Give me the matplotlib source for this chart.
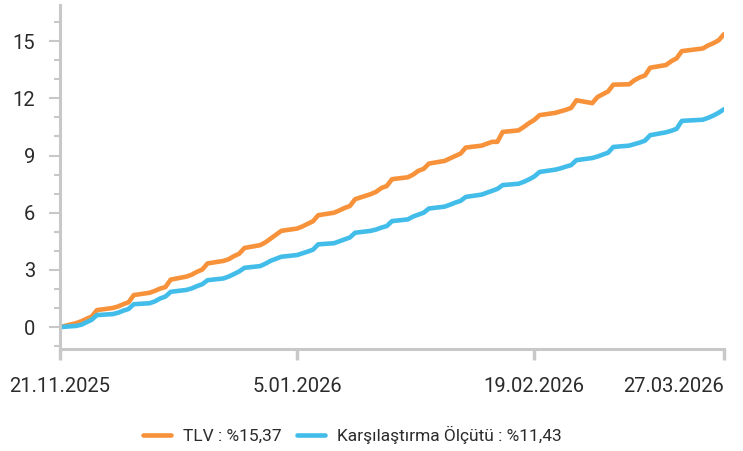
import pandas as pd
import matplotlib.pyplot as plt
from matplotlib.ticker import MultipleLocator

plt.rcParams['font.family'] = ['Roboto', 'DejaVu Sans']

# business days, Turkish holidays dropped (1 Jan, Ramazan Bayrami 20 Mar)
holidays = ['2026-01-01', '2026-03-20']
dates = pd.bdate_range('2025-11-21', '2026-03-27', freq='C', holidays=holidays)

tlv = [
    0.00,
    0.20, 0.30, 0.43, 0.55, 0.89,
    1.00, 1.08, 1.20, 1.30, 1.68,
    1.80, 1.90, 2.02, 2.10, 2.49,
    2.65, 2.75, 2.90, 3.02, 3.34,
    3.47, 3.56, 3.72, 3.85, 4.15,
    4.30, 4.45, 4.65, 5.05,
    5.17, 5.28, 5.42, 5.55, 5.87,
    6.00, 6.12, 6.25, 6.35, 6.71,
    6.98, 7.10, 7.30, 7.40, 7.76,
    7.86, 8.00, 8.20, 8.30, 8.58,
    8.72, 8.85, 8.98, 9.10, 9.42,
    9.52, 9.62, 9.72, 9.72, 10.24,
    10.32, 10.50, 10.70, 10.87, 11.12,
    11.24, 11.32, 11.40, 11.50, 11.90,
    11.75, 12.07, 12.22, 12.36, 12.72,
    12.74, 12.95, 13.10, 13.20, 13.61,
    13.75, 13.95, 14.10, 14.48,
    14.62, 14.78, 14.90, 15.05, 15.37,
]

benchmark = [
    0.00,
    0.06, 0.12, 0.25, 0.38, 0.63,
    0.68, 0.75, 0.86, 0.95, 1.20,
    1.25, 1.35, 1.50, 1.60, 1.85,
    1.95, 2.03, 2.15, 2.25, 2.46,
    2.55, 2.65, 2.78, 2.92, 3.11,
    3.20, 3.33, 3.48, 3.69,
    3.78, 3.87, 3.96, 4.06, 4.34,
    4.40, 4.50, 4.60, 4.70, 4.95,
    5.05, 5.12, 5.22, 5.30, 5.56,
    5.65, 5.80, 5.90, 6.00, 6.22,
    6.32, 6.42, 6.53, 6.62, 6.83,
    6.95, 7.05, 7.15, 7.25, 7.45,
    7.52, 7.62, 7.75, 7.90, 8.14,
    8.26, 8.33, 8.42, 8.50, 8.76,
    8.87, 8.95, 9.05, 9.15, 9.45,
    9.52, 9.60, 9.68, 9.78, 10.07,
    10.22, 10.30, 10.40, 10.82,
    10.88, 10.98, 11.10, 11.25, 11.43,
]

labels = ['TLV : %15,37', 'Karşılaştırma Ölçütü : %11,43']
colors = ['#F7923A', '#42BDEA']
tick_dates = ['2025-11-21', '2026-01-05', '2026-02-19', '2026-03-27']
tick_labels = ['21.11.2025', '5.01.2026', '19.02.2026', '27.03.2026']

fig = plt.figure(figsize=(7.43, 4.51), dpi=100)
ax = fig.add_axes([0.0808, 0.2262, 0.8936, 0.7627])

ax.plot(dates, tlv, color=colors[0], lw=3.3, label=labels[0], solid_capstyle='round')
ax.plot(dates, benchmark, color=colors[1], lw=3.3, label=labels[1], solid_capstyle='round')

ax.set_xlim(pd.Timestamp(tick_dates[0]), pd.Timestamp(tick_dates[-1]))
ax.set_ylim(-1.15, 16.9)

ax.yaxis.set_major_locator(MultipleLocator(3))
ax.yaxis.set_minor_locator(MultipleLocator(1))
ax.set_xticks([pd.Timestamp(d) for d in tick_dates])
ax.set_xticklabels(tick_labels)
ax.get_xticklabels()[-1].set_horizontalalignment('right')

for s in ['top', 'right']:
    ax.spines[s].set_visible(False)
for s in ['left', 'bottom']:
    ax.spines[s].set_color('#C8C8C8')
    ax.spines[s].set_linewidth(2.2)

ax.tick_params(axis='y', which='major', length=8, width=1.5, color='#C8C8C8',
               labelsize=14.5, labelcolor='#2B2B2B', pad=10)
ax.tick_params(axis='y', which='minor', length=4, width=1.5, color='#C8C8C8')
ax.tick_params(axis='x', which='major', length=8, width=2.5, color='#C8C8C8',
               labelsize=14.5, labelcolor='#2B2B2B', pad=12)

fig.legend(loc='center', bbox_to_anchor=(0.474, 0.036), ncol=2, frameon=False,
           fontsize=12.5, handlelength=1.6, handletextpad=0.7, columnspacing=0.9,
           labelcolor='#2B2B2B')

fig.savefig('out.png', dpi=100)
